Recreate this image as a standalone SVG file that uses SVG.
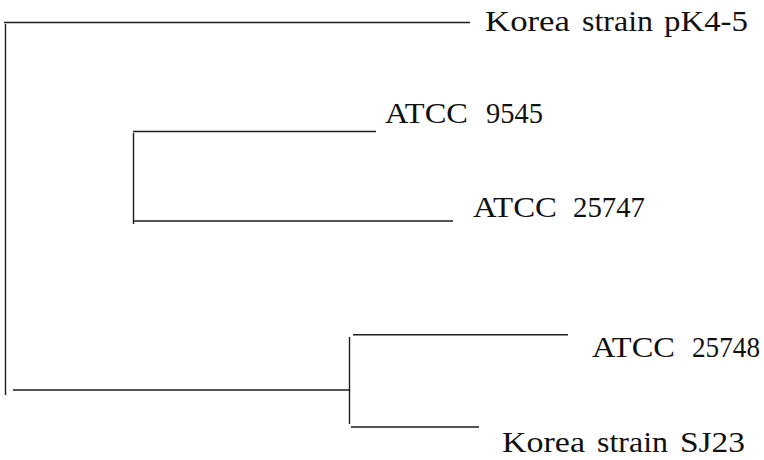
<svg xmlns="http://www.w3.org/2000/svg" width="764" height="460" viewBox="0 0 764 460">
  <style>
    .branch { stroke: #1c1c1c; stroke-width: 1.4; fill: none; }
    text { font-family: 'Liberation Serif', 'DejaVu Serif', serif; font-size: 29px; fill: #111; }
  </style>
  <rect width="764" height="460" fill="#ffffff"/>

  <!-- tree branches -->
  <g id="connectors">
    <!-- root -->
    <line class="branch" x1="4" y1="22.5" x2="470" y2="22.5"/>
    <line class="branch" x1="5.5" y1="24" x2="5.5" y2="395"/>
    <line class="branch" x1="13" y1="390" x2="349" y2="390"/>
    <!-- ATCC 9545 / ATCC 25747 clade -->
    <line class="branch" x1="133.5" y1="133" x2="133.5" y2="224"/>
    <line class="branch" x1="133" y1="131.5" x2="376" y2="131.5"/>
    <line class="branch" x1="134" y1="221" x2="453" y2="221"/>
    <!-- ATCC 25748 / SJ23 clade -->
    <line class="branch" x1="349.5" y1="337" x2="349.5" y2="424"/>
    <line class="branch" x1="353" y1="334.7" x2="568" y2="334.7"/>
    <line class="branch" x1="351" y1="427" x2="479" y2="427"/>
  </g>

  <!-- leaf labels: each word placed and sized on its own -->
  <g id="leaf-pK4-5">
    <text y="31"><tspan x="485" textLength="85" lengthAdjust="spacingAndGlyphs">Korea</tspan> <tspan x="582" textLength="71" lengthAdjust="spacingAndGlyphs">strain</tspan> <tspan x="664" textLength="84" lengthAdjust="spacingAndGlyphs">pK4-5</tspan></text>
  </g>
  <g id="leaf-ATCC-9545">
    <text y="123"><tspan x="385" textLength="83" lengthAdjust="spacingAndGlyphs">ATCC</tspan> <tspan x="486" textLength="57" lengthAdjust="spacingAndGlyphs">9545</tspan></text>
  </g>
  <g id="leaf-ATCC-25747">
    <text y="217"><tspan x="473" textLength="84" lengthAdjust="spacingAndGlyphs">ATCC</tspan> <tspan x="573" textLength="72" lengthAdjust="spacingAndGlyphs">25747</tspan></text>
  </g>
  <g id="leaf-ATCC-25748">
    <text y="357"><tspan x="592" textLength="83" lengthAdjust="spacingAndGlyphs">ATCC</tspan> <tspan x="692" textLength="68" lengthAdjust="spacingAndGlyphs">25748</tspan></text>
  </g>
  <g id="leaf-SJ23">
    <text y="452"><tspan x="502" textLength="83" lengthAdjust="spacingAndGlyphs">Korea</tspan> <tspan x="597" textLength="71" lengthAdjust="spacingAndGlyphs">strain</tspan> <tspan x="680" textLength="65" lengthAdjust="spacingAndGlyphs">SJ23</tspan></text>
  </g>
</svg>
